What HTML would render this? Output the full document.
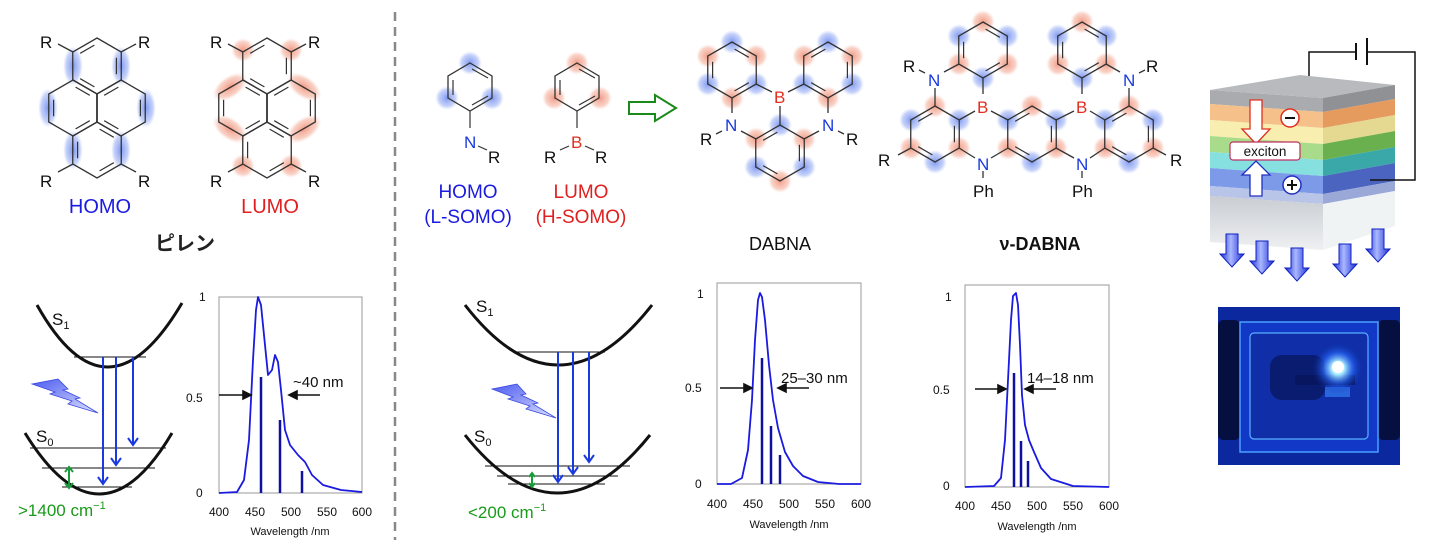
<!DOCTYPE html>
<html><head><meta charset="utf-8"><style>
html,body{margin:0;padding:0;background:#fff;}
svg{display:block;font-family:"Liberation Sans","Noto Sans CJK JP",sans-serif;}
</style></head><body>
<svg width="1440" height="548" viewBox="0 0 1440 548" xmlns="http://www.w3.org/2000/svg">
<defs>
<radialGradient id="gb"><stop offset="0" stop-color="#6f8cf0" stop-opacity="0.9"/><stop offset="0.7" stop-color="#9fb3f5" stop-opacity="0.6"/><stop offset="1" stop-color="#c8d4fa" stop-opacity="0"/></radialGradient>
<radialGradient id="gr"><stop offset="0" stop-color="#f08a70" stop-opacity="0.85"/><stop offset="0.7" stop-color="#f5b4a2" stop-opacity="0.6"/><stop offset="1" stop-color="#fadad0" stop-opacity="0"/></radialGradient>
<radialGradient id="glow"><stop offset="0" stop-color="#ffffff"/><stop offset="0.25" stop-color="#aef"/><stop offset="0.6" stop-color="#2a6cff" stop-opacity="0.6"/><stop offset="1" stop-color="#0a2a9a" stop-opacity="0"/></radialGradient>
<linearGradient id="glass" x1="0" y1="0" x2="0" y2="1"><stop offset="0" stop-color="#c9cdd2"/><stop offset="1" stop-color="#eef0f2"/></linearGradient>
<linearGradient id="bar" x1="0" y1="0" x2="1" y2="0"><stop offset="0" stop-color="#1a2ad8"/><stop offset="0.45" stop-color="#aab8ff"/><stop offset="1" stop-color="#1a2ad8"/></linearGradient>
<linearGradient id="bolt" x1="0" y1="0" x2="1" y2="1"><stop offset="0" stop-color="#4d5cf0"/><stop offset="1" stop-color="#dde2ff"/></linearGradient>
<polygon id="h" points="0,-28 24.25,-14 24.25,14 0,28 -24.25,14 -24.25,-14" fill="none" stroke="#333" stroke-width="1.3"/>
<polygon id="ha" points="0,-22.4 19.4,-11.2 19.4,11.2 0,22.4 -19.4,11.2 -19.4,-11.2" fill="none" stroke="#333" stroke-width="1.2" stroke-dasharray="0 3 16.4 25.4"/>
<polygon id="hb" points="0,-22.4 19.4,-11.2 19.4,11.2 0,22.4 -19.4,11.2 -19.4,-11.2" fill="none" stroke="#333" stroke-width="1.2" stroke-dasharray="0 3 16.4 25.4" stroke-dashoffset="22.4"/>
<circle id="B" r="12" fill="url(#gb)"/>
<circle id="Rd" r="12" fill="url(#gr)"/>
<polygon id="dn" points="-6,-16 6,-16 6,4 12,4 0,17 -12,4 -6,4" fill="url(#bar)" stroke="#1020c0" stroke-width="1"/>
</defs>

<!-- Pyrene HOMO -->
<g>
<ellipse cx="73" cy="66" rx="10" ry="20" fill="url(#gb)"/>
<ellipse cx="121" cy="66" rx="10" ry="20" fill="url(#gb)"/>
<ellipse cx="48" cy="108" rx="10" ry="20" fill="url(#gb)"/>
<ellipse cx="146" cy="108" rx="10" ry="20" fill="url(#gb)"/>
<ellipse cx="73" cy="150" rx="10" ry="20" fill="url(#gb)"/>
<ellipse cx="121" cy="150" rx="10" ry="20" fill="url(#gb)"/>
<use href="#h" x="97" y="66"/><use href="#h" x="73" y="108"/><use href="#h" x="121" y="108"/><use href="#h" x="97" y="150"/>
<use href="#hb" x="97" y="66"/><use href="#ha" x="73" y="108"/><use href="#hb" x="121" y="108"/><use href="#ha" x="97" y="150"/>
<line x1="73" y1="52" x2="58" y2="44" stroke="#333" stroke-width="1.3"/><line x1="121" y1="52" x2="136" y2="44" stroke="#333" stroke-width="1.3"/>
<line x1="73" y1="164" x2="58" y2="172" stroke="#333" stroke-width="1.3"/><line x1="121" y1="164" x2="136" y2="172" stroke="#333" stroke-width="1.3"/>
<g font-size="17" fill="#111"><text x="40" y="48">R</text><text x="138" y="48">R</text><text x="40" y="187">R</text><text x="138" y="187">R</text></g>
<text x="100" y="213" font-size="20" fill="#1a1ae0" text-anchor="middle">HOMO</text>
</g>
<!-- Pyrene LUMO -->
<g transform="translate(170,0)">
<use href="#Rd" x="73" y="50"/><use href="#Rd" x="121" y="50"/>
<ellipse cx="60" cy="87" rx="20" ry="11" fill="url(#gr)" transform="rotate(-35 60 87)"/>
<ellipse cx="134" cy="87" rx="20" ry="11" fill="url(#gr)" transform="rotate(35 134 87)"/>
<ellipse cx="60" cy="129" rx="20" ry="11" fill="url(#gr)" transform="rotate(35 60 129)"/>
<ellipse cx="134" cy="129" rx="20" ry="11" fill="url(#gr)" transform="rotate(-35 134 129)"/>
<use href="#Rd" x="73" y="166"/><use href="#Rd" x="121" y="166"/>
<use href="#h" x="97" y="66"/><use href="#h" x="73" y="108"/><use href="#h" x="121" y="108"/><use href="#h" x="97" y="150"/>
<use href="#hb" x="97" y="66"/><use href="#ha" x="73" y="108"/><use href="#hb" x="121" y="108"/><use href="#ha" x="97" y="150"/>
<line x1="73" y1="52" x2="58" y2="44" stroke="#333" stroke-width="1.3"/><line x1="121" y1="52" x2="136" y2="44" stroke="#333" stroke-width="1.3"/>
<line x1="73" y1="164" x2="58" y2="172" stroke="#333" stroke-width="1.3"/><line x1="121" y1="164" x2="136" y2="172" stroke="#333" stroke-width="1.3"/>
<g font-size="17" fill="#111"><text x="40" y="48">R</text><text x="138" y="48">R</text><text x="40" y="187">R</text><text x="138" y="187">R</text></g>
<text x="100" y="213" font-size="20" fill="#e02020" text-anchor="middle">LUMO</text>
</g>
<text x="185" y="250" font-size="20" font-weight="bold" fill="#222" text-anchor="middle">ピレン</text>

<!-- divider -->
<line x1="395" y1="12" x2="395" y2="540" stroke="#888" stroke-width="2.5" stroke-dasharray="9 6"/>

<!-- left energy diagram -->
<path d="M37,305 Q107,430 182,303" fill="none" stroke="#111" stroke-width="3"/>
<path d="M25,433 Q100,555 172,433" fill="none" stroke="#111" stroke-width="3"/>
<line x1="74" y1="357" x2="146" y2="357" stroke="#111" stroke-width="1"/>
<line x1="30" y1="448" x2="166" y2="448" stroke="#111" stroke-width="1"/>
<line x1="42" y1="468" x2="155" y2="468" stroke="#111" stroke-width="1"/>
<line x1="62" y1="487" x2="132" y2="487" stroke="#111" stroke-width="1"/>
<text x="52" y="325" font-size="17" fill="#111">S<tspan font-size="11" dy="4">1</tspan></text>
<text x="36" y="442" font-size="17" fill="#111">S<tspan font-size="11" dy="4">0</tspan></text>
<g stroke="#1a3ae0" stroke-width="2" fill="none">
<line x1="103" y1="357" x2="103" y2="483"/><polyline points="98,477 103,484 108,477"/>
<line x1="116" y1="357" x2="116" y2="464"/><polyline points="111,458 116,465 121,458"/>
<line x1="133" y1="357" x2="133" y2="444"/><polyline points="128,438 133,445 138,438"/>
</g>
<g stroke="#1a9a3a" stroke-width="2" fill="none"><line x1="69" y1="468" x2="69" y2="487"/><polyline points="65,472 69,467 73,472"/><polyline points="65,483 69,488 73,483"/></g>
<text x="18" y="516" font-size="17" fill="#1a9a1a">&gt;1400 cm<tspan font-size="11" dy="-7">−1</tspan></text>
<polygon points="32,384 58,379 68,389 63,390 80,398 75,399 98,413 68,404 72,401 50,394 55,392" fill="url(#bolt)" stroke="#3a48e0" stroke-width="0.8"/>

<!-- spectrum 1 -->
<rect x="219" y="297" width="143" height="196" fill="none" stroke="#999" stroke-width="1"/>
<g font-size="12" fill="#111"><text x="199" y="301">1</text><text x="186" y="402">0.5</text><text x="196" y="497">0</text>
<g text-anchor="middle"><text x="219" y="516">400</text><text x="255" y="516">450</text><text x="291" y="516">500</text><text x="327" y="516">550</text><text x="362" y="516">600</text></g>
<text x="290" y="535" font-size="11" text-anchor="middle">Wavelength /nm</text></g>
<polyline fill="none" stroke="#1a1ae0" stroke-width="1.8" stroke-linejoin="round" points="219,493 237,492 244,480 249,440 253,360 256,310 258,297 261,305 265,345 268,375 272,370 275,355 278,362 281,390 285,430 290,445 298,455 305,462 312,475 323,485 341,490 362,492"/>
<g stroke="#1010a0" stroke-width="2.5"><line x1="261" y1="493" x2="261" y2="377"/><line x1="280" y1="493" x2="280" y2="420"/><line x1="302" y1="493" x2="302" y2="471"/></g>
<g stroke="#111" stroke-width="1.6" fill="#111"><line x1="219" y1="395" x2="248" y2="395"/><polygon points="251,395 243,391 243,399"/><line x1="320" y1="395" x2="292" y2="395"/><polygon points="289,395 297,391 297,399"/></g>
<text x="293" y="387" font-size="15" fill="#111">~40 nm</text>

<!-- aniline / borane -->
<use href="#B" x="470" y="63"/><use href="#B" x="447" y="98"/><use href="#B" x="492" y="98"/>
<use href="#Rd" x="577" y="63"/><use href="#Rd" x="554" y="98"/><use href="#Rd" x="600" y="98"/>
<polygon points="470,63 492,76 492,98 470,111 448,98 448,76" fill="none" stroke="#333" stroke-width="1.3"/>
<polygon points="577,63 599,76 599,98 577,111 555,98 555,76" fill="none" stroke="#333" stroke-width="1.3"/>
<g stroke="#333" stroke-width="1.2"><line x1="472" y1="69" x2="488" y2="78"/><line x1="453" y1="80" x2="453" y2="95"/><line x1="472" y1="105" x2="488" y2="96"/>
<line x1="579" y1="69" x2="595" y2="78"/><line x1="560" y1="80" x2="560" y2="95"/><line x1="579" y1="105" x2="595" y2="96"/>
<line x1="470" y1="111" x2="470" y2="128"/><line x1="478" y1="146" x2="487" y2="150"/>
<line x1="577" y1="111" x2="577" y2="128"/><line x1="569" y1="146" x2="560" y2="150"/><line x1="585" y1="146" x2="594" y2="150"/></g>
<text x="464" y="148" font-size="17" fill="#1a3ae0">N</text><text x="488" y="163" font-size="17" fill="#111">R</text>
<text x="571" y="148" font-size="17" fill="#e03020">B</text><text x="544" y="163" font-size="17" fill="#111">R</text><text x="595" y="163" font-size="17" fill="#111">R</text>
<g font-size="19" text-anchor="middle"><text x="468" y="198" fill="#1a1ae0">HOMO</text><text x="468" y="223" fill="#1a1ae0">(L-SOMO)</text>
<text x="581" y="198" fill="#e02020">LUMO</text><text x="581" y="223" fill="#e02020">(H-SOMO)</text></g>
<polygon points="629,102 655,102 655,95 676,108 655,121 655,114 629,114" fill="#fff" stroke="#1a8a1a" stroke-width="2"/>

<!-- DABNA -->
<g>
<use href="#B" x="732" y="42"/><use href="#Rd" x="756" y="56"/><use href="#B" x="756" y="84"/><use href="#Rd" x="732" y="98"/><use href="#B" x="708" y="84"/><use href="#Rd" x="708" y="56"/>
<use href="#B" x="828" y="42"/><use href="#Rd" x="852" y="56"/><use href="#B" x="852" y="84"/><use href="#Rd" x="828" y="98"/><use href="#B" x="804" y="84"/><use href="#Rd" x="804" y="56"/>
<use href="#B" x="780" y="125"/><use href="#Rd" x="804" y="139"/><use href="#B" x="804" y="167"/><use href="#Rd" x="780" y="181"/><use href="#B" x="756" y="167"/><use href="#Rd" x="756" y="139"/>
<use href="#h" x="732" y="70"/><use href="#h" x="828" y="70"/><use href="#h" x="780" y="153"/>
<use href="#ha" x="732" y="70"/><use href="#hb" x="828" y="70"/><use href="#hb" x="780" y="153"/>
<g stroke="#333" stroke-width="1.3"><line x1="756" y1="84" x2="772" y2="92"/><line x1="804" y1="84" x2="788" y2="92"/><line x1="780" y1="125" x2="780" y2="106"/>
<line x1="732" y1="98" x2="732" y2="113"/><line x1="741" y1="131" x2="756" y2="139"/><line x1="828" y1="98" x2="828" y2="113"/><line x1="819" y1="131" x2="804" y2="139"/>
<line x1="722" y1="131" x2="716" y2="134"/><line x1="838" y1="131" x2="844" y2="134"/></g>
<text x="774" y="103" font-size="17" fill="#e03020">B</text>
<text x="725" y="131" font-size="17" fill="#1a3ae0">N</text><text x="822" y="131" font-size="17" fill="#1a3ae0">N</text>
<text x="700" y="145" font-size="17" fill="#111">R</text><text x="846" y="145" font-size="17" fill="#111">R</text>
<text x="780" y="250" font-size="18" fill="#111" text-anchor="middle">DABNA</text>
</g>

<!-- v-DABNA -->
<g>
<use href="#Rd" x="983" y="22"/><use href="#B" x="959" y="36"/><use href="#B" x="1007" y="36"/><use href="#Rd" x="1007" y="64"/><use href="#Rd" x="959" y="64"/><use href="#B" x="983" y="78"/>
<use href="#Rd" x="1082" y="22"/><use href="#B" x="1058" y="36"/><use href="#B" x="1106" y="36"/><use href="#Rd" x="1106" y="64"/><use href="#Rd" x="1058" y="64"/><use href="#B" x="1082" y="78"/>
<use href="#Rd" x="935" y="106"/><use href="#B" x="911" y="120"/><use href="#Rd" x="911" y="148"/><use href="#B" x="935" y="162"/><use href="#B" x="959" y="120"/><use href="#Rd" x="959" y="148"/>
<use href="#B" x="1008" y="120"/><use href="#Rd" x="1032" y="106"/><use href="#B" x="1056" y="120"/><use href="#Rd" x="1008" y="148"/><use href="#B" x="1032" y="162"/><use href="#Rd" x="1056" y="148"/>
<use href="#Rd" x="1129" y="106"/><use href="#B" x="1153" y="120"/><use href="#Rd" x="1153" y="148"/><use href="#B" x="1129" y="162"/><use href="#B" x="1105" y="120"/><use href="#Rd" x="1105" y="148"/>
<use href="#h" x="983" y="50"/><use href="#h" x="1082" y="50"/>
<use href="#h" x="935" y="134"/><use href="#h" x="1032" y="134"/><use href="#h" x="1129" y="134"/>
<use href="#ha" x="983" y="50"/><use href="#ha" x="1082" y="50"/>
<use href="#hb" x="935" y="134"/><use href="#hb" x="1032" y="134"/><use href="#hb" x="1129" y="134"/>
<g stroke="#333" stroke-width="1.3">
<line x1="983" y1="78" x2="983" y2="94"/><line x1="1082" y1="78" x2="1082" y2="94"/>
<line x1="959" y1="120" x2="975" y2="111"/><line x1="1008" y1="120" x2="991" y2="111"/>
<line x1="1056" y1="120" x2="1074" y2="111"/><line x1="1105" y1="120" x2="1090" y2="111"/>
<line x1="959" y1="148" x2="975" y2="158"/><line x1="1008" y1="148" x2="991" y2="158"/>
<line x1="1056" y1="148" x2="1074" y2="158"/><line x1="1105" y1="148" x2="1090" y2="158"/>
<line x1="959" y1="64" x2="944" y2="72"/><line x1="935" y1="106" x2="935" y2="88"/>
<line x1="1106" y1="64" x2="1120" y2="72"/><line x1="1129" y1="106" x2="1129" y2="88"/>
<line x1="983" y1="171" x2="983" y2="178"/><line x1="1082" y1="171" x2="1082" y2="178"/>
<line x1="911" y1="148" x2="898" y2="155"/><line x1="1153" y1="148" x2="1166" y2="155"/>
<line x1="925" y1="73" x2="919" y2="70"/><line x1="1139" y1="73" x2="1145" y2="70"/></g>
<text x="977" y="113" font-size="17" fill="#e03020">B</text><text x="1076" y="113" font-size="17" fill="#e03020">B</text>
<text x="928" y="86" font-size="17" fill="#1a3ae0">N</text><text x="1123" y="86" font-size="17" fill="#1a3ae0">N</text>
<text x="977" y="170" font-size="17" fill="#1a3ae0">N</text><text x="1076" y="170" font-size="17" fill="#1a3ae0">N</text>
<text x="903" y="72" font-size="17" fill="#111">R</text><text x="1146" y="72" font-size="17" fill="#111">R</text>
<text x="878" y="166" font-size="17" fill="#111">R</text><text x="1170" y="166" font-size="17" fill="#111">R</text>
<text x="973" y="197" font-size="17" fill="#111">Ph</text><text x="1072" y="197" font-size="17" fill="#111">Ph</text>
<text x="1040" y="250" font-size="18" font-weight="bold" fill="#111" text-anchor="middle">ν-DABNA</text>
</g>

<!-- middle energy diagram -->
<path d="M465,305 Q558,425 652,305" fill="none" stroke="#111" stroke-width="3"/>
<path d="M465,435 Q557,551 650,435" fill="none" stroke="#111" stroke-width="3"/>
<line x1="515" y1="352" x2="605" y2="352" stroke="#111" stroke-width="1"/>
<line x1="485" y1="466" x2="630" y2="466" stroke="#111" stroke-width="1"/>
<line x1="497" y1="476" x2="618" y2="476" stroke="#111" stroke-width="1"/>
<line x1="508" y1="484" x2="605" y2="484" stroke="#111" stroke-width="1"/>
<text x="476" y="312" font-size="17" fill="#111">S<tspan font-size="11" dy="4">1</tspan></text>
<text x="474" y="442" font-size="17" fill="#111">S<tspan font-size="11" dy="4">0</tspan></text>
<g stroke="#1a3ae0" stroke-width="2" fill="none">
<line x1="558" y1="352" x2="558" y2="481"/><polyline points="553,475 558,482 563,475"/>
<line x1="573" y1="352" x2="573" y2="473"/><polyline points="568,467 573,474 578,467"/>
<line x1="589" y1="352" x2="589" y2="461"/><polyline points="584,455 589,462 594,455"/>
</g>
<g stroke="#1a9a3a" stroke-width="2" fill="none"><line x1="532" y1="474" x2="532" y2="486"/><polyline points="529,477 532,473 535,477"/><polyline points="529,483 532,487 535,483"/></g>
<text x="468" y="518" font-size="17" fill="#1a9a1a">&lt;200 cm<tspan font-size="11" dy="-7">−1</tspan></text>
<polygon points="492,389 517,384 526,394 521,395 538,403 533,404 556,418 526,409 530,406 508,399 513,397" fill="url(#bolt)" stroke="#3a48e0" stroke-width="0.8"/>

<!-- spectrum 2 -->
<rect x="717" y="283" width="144" height="201" fill="none" stroke="#999" stroke-width="1"/>
<g font-size="12" fill="#111"><text x="697" y="298">1</text><text x="685" y="392">0.5</text><text x="695" y="488">0</text>
<g text-anchor="middle"><text x="717" y="508">400</text><text x="753" y="508">450</text><text x="789" y="508">500</text><text x="825" y="508">550</text><text x="861" y="508">600</text></g>
<text x="789" y="528" font-size="11" text-anchor="middle">Wavelength /nm</text></g>
<polyline fill="none" stroke="#1a1ae0" stroke-width="1.8" stroke-linejoin="round" points="717,484 731,484 742,478 748,450 752,400 755,340 758,300 760,293 762,297 765,320 769,365 773,400 778,428 785,452 793,466 803,476 818,482 839,484 861,484"/>
<g stroke="#1010a0" stroke-width="2.5"><line x1="762" y1="484" x2="762" y2="358"/><line x1="771" y1="484" x2="771" y2="426"/><line x1="780" y1="484" x2="780" y2="455"/></g>
<g stroke="#111" stroke-width="1.6" fill="#111"><line x1="720" y1="388" x2="749" y2="388"/><polygon points="752,388 744,384 744,392"/><line x1="809" y1="388" x2="781" y2="388"/><polygon points="778,388 786,384 786,392"/></g>
<text x="781" y="383" font-size="15" fill="#111">25–30 nm</text>

<!-- spectrum 3 -->
<rect x="965" y="285" width="144" height="202" fill="none" stroke="#999" stroke-width="1"/>
<g font-size="12" fill="#111"><text x="945" y="301">1</text><text x="933" y="394">0.5</text><text x="943" y="490">0</text>
<g text-anchor="middle"><text x="965" y="510">400</text><text x="1001" y="510">450</text><text x="1037" y="510">500</text><text x="1073" y="510">550</text><text x="1109" y="510">600</text></g>
<text x="1037" y="530" font-size="11" text-anchor="middle">Wavelength /nm</text></g>
<polyline fill="none" stroke="#1a1ae0" stroke-width="1.8" stroke-linejoin="round" points="965,487 994,486 1001,478 1005,440 1008,380 1011,320 1013,296 1016,293 1018,305 1020,345 1022,395 1025,425 1029,440 1034,452 1041,468 1051,479 1073,486 1109,487"/>
<g stroke="#1010a0" stroke-width="2.5"><line x1="1014" y1="487" x2="1014" y2="373"/><line x1="1021" y1="487" x2="1021" y2="441"/><line x1="1028" y1="487" x2="1028" y2="461"/></g>
<g stroke="#111" stroke-width="1.6" fill="#111"><line x1="975" y1="389" x2="1003" y2="389"/><polygon points="1006,389 998,385 998,393"/><line x1="1056" y1="389" x2="1028" y2="389"/><polygon points="1025,389 1033,385 1033,393"/></g>
<text x="1027" y="383" font-size="15" fill="#111">14–18 nm</text>

<!-- OLED device -->
<g>
<polyline points="1309,92 1309,52 1356,52" fill="none" stroke="#111" stroke-width="1.5"/>
<line x1="1356" y1="43" x2="1356" y2="60" stroke="#111" stroke-width="2"/>
<line x1="1367" y1="38" x2="1367" y2="65" stroke="#111" stroke-width="2"/>
<polyline points="1367,52 1415,52 1415,180 1370,180" fill="none" stroke="#111" stroke-width="1.5"/>
<!-- top face -->
<polygon points="1210,90 1300,75 1395,85 1323,98" fill="#b8babd"/>
<!-- layers: left y, right front = +8, side right = left-5 -->
<polygon points="1210,90 1323,98 1323,112 1210,104" fill="#a9abae"/><polygon points="1323,98 1395,85 1395,99 1323,112" fill="#8f9194"/>
<polygon points="1210,104 1323,112 1323,128 1210,120" fill="#f5c08a"/><polygon points="1323,112 1395,99 1395,115 1323,128" fill="#e59a5e"/>
<polygon points="1210,120 1323,128 1323,144 1210,136" fill="#f7eeb0"/><polygon points="1323,128 1395,115 1395,131 1323,144" fill="#e5d890"/>
<polygon points="1210,136 1323,144 1323,160 1210,152" fill="#a9dc8a"/><polygon points="1323,144 1395,131 1395,147 1323,160" fill="#6ab04e"/>
<polygon points="1210,152 1323,160 1323,176 1210,168" fill="#86e0e0"/><polygon points="1323,160 1395,147 1395,163 1323,176" fill="#3aa8a8"/>
<polygon points="1210,168 1323,176 1323,194 1210,186" fill="#7c9ae8"/><polygon points="1323,176 1395,163 1395,181 1323,194" fill="#4a64c0"/>
<polygon points="1210,186 1323,194 1323,204 1210,196" fill="#b8c4e8"/><polygon points="1323,194 1395,181 1395,191 1323,204" fill="#9aa8d8"/>
<polygon points="1210,196 1323,204 1323,250 1210,242" fill="url(#glass)"/><polygon points="1323,204 1395,191 1395,226 1323,250" fill="#f0f3f4"/>
<line x1="1370" y1="180" x2="1395" y2="180" stroke="#111" stroke-width="1.5"/>
<!-- electron / hole arrows -->
<polygon points="1250,100 1262,100 1262,129 1270,129 1256,144 1242,129 1250,129" fill="#fff" stroke="#e03020" stroke-width="1.3"/>
<circle cx="1290" cy="118" r="9" fill="#fff" stroke="#e03020" stroke-width="1.5"/><line x1="1285" y1="118" x2="1295" y2="118" stroke="#111" stroke-width="2"/>
<rect x="1230" y="142" width="70" height="18" rx="3" fill="#fff" stroke="#c03060" stroke-width="1.2"/>
<text x="1265" y="156" font-size="13.5" fill="#111" text-anchor="middle">exciton</text>
<polygon points="1250,196 1262,196 1262,175 1270,175 1256,161 1242,175 1250,175" fill="#fff" stroke="#2030c0" stroke-width="1.3"/>
<circle cx="1292" cy="185" r="9" fill="#fff" stroke="#2030c0" stroke-width="1.5"/>
<line x1="1287" y1="185" x2="1297" y2="185" stroke="#111" stroke-width="2"/><line x1="1292" y1="180" x2="1292" y2="190" stroke="#111" stroke-width="2"/>
<use href="#dn" x="1232" y="250"/><use href="#dn" x="1262" y="257"/><use href="#dn" x="1297" y="264"/><use href="#dn" x="1345" y="260"/><use href="#dn" x="1378" y="245"/>
</g>

<!-- photo -->
<g>
<rect x="1218" y="307" width="182" height="158" fill="#0c2fb0"/>
<rect x="1218" y="307" width="182" height="158" fill="#0b1e80" opacity="0.35"/>
<rect x="1218" y="320" width="22" height="120" rx="5" fill="#061040"/>
<rect x="1378" y="320" width="22" height="120" rx="5" fill="#061040"/>
<rect x="1240" y="322" width="138" height="130" fill="#1238c8" stroke="#4aa0ff" stroke-width="1.5"/>
<rect x="1250" y="333" width="118" height="106" rx="4" fill="#0f2ea8" stroke="#5ab0ff" stroke-width="1.2"/>
<rect x="1270" y="355" width="55" height="45" rx="12" fill="#0a1c70"/>
<rect x="1295" y="375" width="60" height="10" fill="#081660"/>
<rect x="1325" y="387" width="25" height="10" fill="#3a8aff" opacity="0.6"/>
<circle cx="1338" cy="368" r="26" fill="url(#glow)"/>
<circle cx="1338" cy="367" r="6" fill="#fff"/>
</g>
</svg>
</body></html>
